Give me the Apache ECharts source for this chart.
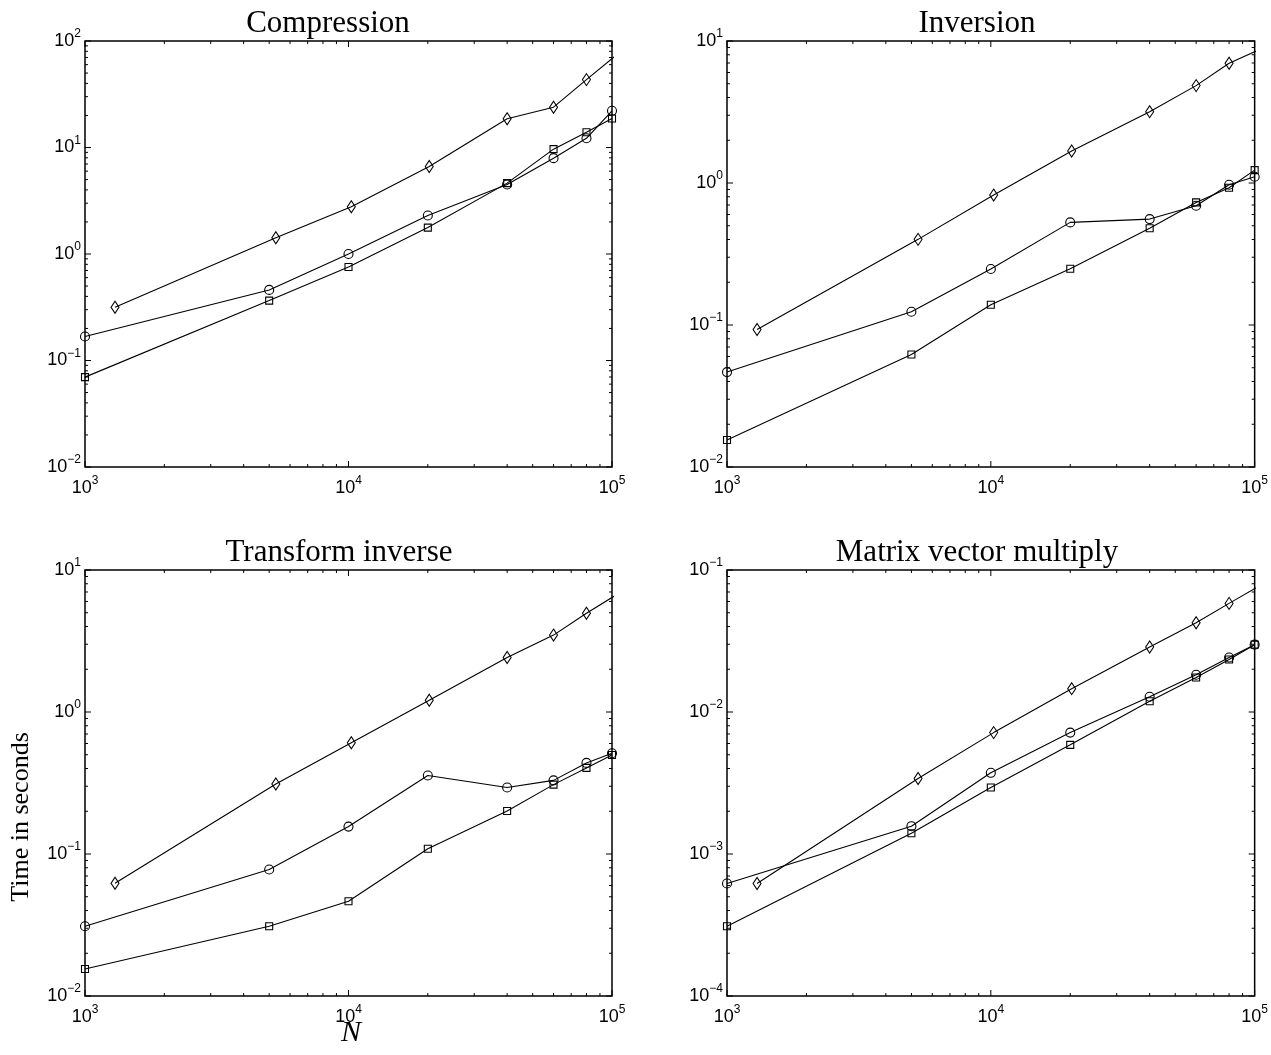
<!DOCTYPE html>
<html><head><meta charset="utf-8">
<script src="https://cdn.jsdelivr.net/npm/echarts@6/dist/echarts.min.js"></script>
<style>html,body{margin:0;padding:0;background:#fff}#c{width:1271px;height:1055px}</style>
</head><body><div id="c"></div>
<script>
// ---- data ----
const titles = ['Compression', 'Inversion', 'Transform inverse', 'Matrix vector multiply'];
const xSquareCircle = [1000, 5000, 10000, 20000, 40000, 60000, 80000, 100000];
const xDiamond = [1300, 5300, 10250, 20250, 40000, 60000, 80000, 110000];

const compressionDiamond = [0.316, 1.42, 2.78, 6.63, 18.6, 23.9, 43.4, 82.8];
const compressionCircle  = [0.168, 0.46, 1.0, 2.30, 4.50, 7.94, 12.2, 22.1];
const compressionSquare  = [0.0698, 0.365, 0.755, 1.77, 4.63, 9.65, 13.9, 18.7];

const inversionDiamond = [0.093, 0.401, 0.822, 1.68, 3.18, 4.85, 6.97, 9.11];
const inversionCircle  = [0.0466, 0.124, 0.248, 0.528, 0.557, 0.692, 0.972, 1.106];
const inversionSquare  = [0.0155, 0.062, 0.139, 0.249, 0.480, 0.730, 0.926, 1.232];

const transformDiamond = [0.0623, 0.311, 0.607, 1.21, 2.42, 3.48, 4.96, 7.14];
const transformCircle  = [0.0310, 0.0778, 0.156, 0.357, 0.294, 0.330, 0.438, 0.512];
const transformSquare  = [0.0155, 0.0310, 0.0465, 0.109, 0.201, 0.308, 0.404, 0.498];

const matvecDiamond = [6.2e-4, 3.40e-3, 7.16e-3, 1.46e-2, 2.87e-2, 4.25e-2, 5.82e-2, 8.17e-2];
const matvecCircle  = [6.2e-4, 1.57e-3, 3.73e-3, 7.16e-3, 1.28e-2, 1.83e-2, 2.42e-2, 2.98e-2];
const matvecSquare  = [3.10e-4, 1.40e-3, 2.94e-3, 5.87e-3, 1.19e-2, 1.75e-2, 2.34e-2, 2.98e-2];

const xRange = [1e3, 1e5];
const yRanges = [[1e-2, 1e2], [1e-2, 1e1], [1e-2, 1e1], [1e-4, 1e-1]];
const yLabel = 'Time in seconds';
const xLabel = 'N';

const panels = [
  [compressionDiamond, compressionCircle, compressionSquare],
  [inversionDiamond, inversionCircle, inversionSquare],
  [transformDiamond, transformCircle, transformSquare],
  [matvecDiamond, matvecCircle, matvecSquare]
];

// ---- layout ----
const grids = [
  {left: 85, top: 41, width: 527, height: 426},
  {left: 727, top: 41, width: 528, height: 426},
  {left: 85, top: 570, width: 527, height: 426},
  {left: 727, top: 570, width: 528, height: 426}
];
const titlePos = [[328, 8], [977, 8], [339, 537], [977, 537]];

const SANS = 'Liberation Sans';
const SERIF = 'Liberation Serif';

function fmt(v) {
  const e = Math.round(Math.log10(v));
  return '{b|10}{s|' + (e < 0 ? '\u2212' + (-e) : e) + '}';
}
const rich = {
  b: {fontSize: 18, fontFamily: SANS, lineHeight: 26, color: '#000'},
  s: {fontSize: 12, fontFamily: SANS, lineHeight: 12, verticalAlign: 'top', color: '#000'}
};

function decadeTicks(lo, hi) {
  const out = [];
  for (let d = lo; d < hi * 0.999; d *= 10) {
    out.push([d, 1]);
    for (let m = 2; m <= 9; m++) out.push([m * d, 0]);
  }
  out.push([hi, 1]);
  return out;
}

const option = {
  animation: false,
  backgroundColor: '#fff',
  title: [], grid: [], xAxis: [], yAxis: [], series: [],
  graphic: [
    {type: 'text', x: 21, y: 817, rotation: Math.PI / 2,
     style: {text: yLabel, font: '26px "' + SERIF + '"', fill: '#000', align: 'center', verticalAlign: 'middle'}},
    {type: 'text', x: 351, y: 1033,
     style: {text: xLabel, font: 'italic 30px "' + SERIF + '"', fill: '#000', align: 'center', verticalAlign: 'middle'}}
  ]
};

function tickRender(params, api) {
  const cs = params.coordSys;
  const kind = api.value(2);
  const len = api.value(3) ? 6 : 3;
  const p = api.coord([api.value(0), api.value(1)]);
  const st = {stroke: '#000', lineWidth: 1};
  if (kind === 0) {
    const x = p[0], yb = cs.y + cs.height, yt = cs.y;
    return {type: 'group', children: [
      {type: 'line', shape: {x1: x, y1: yb, x2: x, y2: yb - len}, style: st},
      {type: 'line', shape: {x1: x, y1: yt, x2: x, y2: yt + len}, style: st}
    ]};
  } else {
    const y = p[1], xl = cs.x, xr = cs.x + cs.width;
    return {type: 'group', children: [
      {type: 'line', shape: {x1: xl, y1: y, x2: xl + len, y2: y}, style: st},
      {type: 'line', shape: {x1: xr, y1: y, x2: xr - len, y2: y}, style: st}
    ]};
  }
}

panels.forEach((pd, i) => {
  const g = grids[i];
  option.grid.push(Object.assign({show: true, borderColor: '#000', borderWidth: 1.5, backgroundColor: 'transparent', containLabel: false}, g));
  option.title.push({text: titles[i], left: titlePos[i][0], top: titlePos[i][1], textAlign: 'center', padding: 0,
    textStyle: {fontFamily: SERIF, fontSize: 31, fontWeight: 'normal', color: '#000'}});
  option.xAxis.push({type: 'log', logBase: 10, gridIndex: i, min: xRange[0], max: xRange[1],
    axisLine: {show: false}, axisTick: {show: false}, splitLine: {show: false},
    axisLabel: {formatter: fmt, rich: rich, margin: 8, showMinLabel: true, showMaxLabel: true}});
  option.yAxis.push({type: 'log', logBase: 10, gridIndex: i, min: yRanges[i][0], max: yRanges[i][1],
    axisLine: {show: false}, axisTick: {show: false}, splitLine: {show: false},
    axisLabel: {formatter: fmt, rich: rich, margin: 4, showMinLabel: true, showMaxLabel: true}});
  const mk = (xs, ys, symbol, size) => ({
    type: 'line', xAxisIndex: i, yAxisIndex: i, clip: true,
    data: xs.map((x, k) => [x, ys[k]]),
    symbol: symbol, symbolSize: size, showAllSymbol: true,
    lineStyle: {color: '#000', width: 1.1},
    itemStyle: {color: 'rgba(0,0,0,0)', borderColor: '#000', borderWidth: 1.1},
    emphasis: {disabled: true}
  });
  option.series.push(mk(xDiamond, pd[0], 'diamond', [8, 12]));
  option.series.push(mk(xSquareCircle, pd[1], 'circle', 9));
  option.series.push(mk(xSquareCircle, pd[2], 'rect', 7));
  const tickData = [];
  decadeTicks(xRange[0], xRange[1]).forEach(t => tickData.push([t[0], yRanges[i][0], 0, t[1]]));
  decadeTicks(yRanges[i][0], yRanges[i][1]).forEach(t => tickData.push([xRange[0], t[0], 1, t[1]]));
  option.series.push({type: 'custom', xAxisIndex: i, yAxisIndex: i, clip: false, silent: true,
    data: tickData, renderItem: tickRender, encode: {x: 0, y: 1}});
});

const chart = echarts.init(document.getElementById('c'), null, {renderer: 'canvas'});
chart.setOption(option);
</script>
</body></html>
